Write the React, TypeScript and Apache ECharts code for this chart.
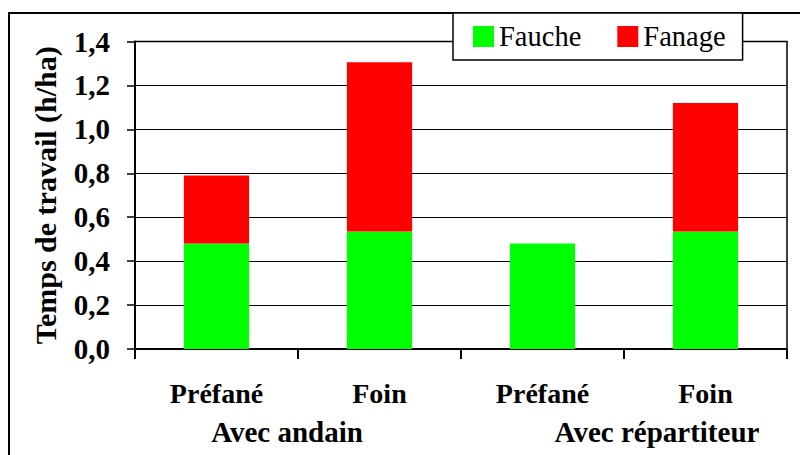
import React, { useEffect, useRef } from "react";
import * as echarts from "echarts";

const categories = ["Préfané", "Foin", "Préfané", "Foin"];
const groupLabels = ["Avec andain", "Avec répartiteur"];
const faucheValues = [0.48, 0.535, 0.48, 0.535];
const fanageValues = [0.31, 0.77, 0, 0.585];
const yTicks = [0, 0.2, 0.4, 0.6, 0.8, 1.0, 1.2, 1.4];

const FONT = "Liberation Serif";

export default function App() {
  const ref = useRef<HTMLDivElement>(null);
  useEffect(() => {
    document.body.style.margin = "0";
    if (!ref.current) return;
    const chart = echarts.init(ref.current, null, { renderer: "svg" });
    chart.setOption({
      animation: false,
      backgroundColor: "#fff",
      textStyle: { fontFamily: FONT },
      grid: {
        left: 135,
        right: 13,
        top: 41.5,
        bottom: 106,
        show: true,
        borderColor: "#000",
        borderWidth: 1.5,
        backgroundColor: "transparent",
      },
      legend: {
        left: 453,
        top: 13,
        itemWidth: 21,
        itemHeight: 21,
        itemGap: 36,
        icon: "rect",
        padding: [9, 17, 9, 20],
        backgroundColor: "#fff",
        borderColor: "#000",
        borderWidth: 1.5,
        textStyle: { fontFamily: FONT, fontSize: 28.5, color: "#000" },
        data: ["Fauche", "Fanage"],
      },
      xAxis: {
        type: "category",
        data: categories,
        axisLine: { lineStyle: { color: "#000", width: 2 } },
        axisTick: { show: true, length: 10, lineStyle: { color: "#000", width: 2 } },
        axisLabel: {
          margin: 30,
          fontFamily: FONT,
          fontWeight: "bold",
          fontSize: 28,
          color: "#000",
        },
      },
      yAxis: {
        type: "value",
        min: 0,
        max: yTicks[yTicks.length - 1],
        interval: 0.2,
        name: "Temps de travail (h/ha)",
        nameLocation: "middle",
        nameGap: 75,
        nameTextStyle: { fontFamily: FONT, fontWeight: "bold", fontSize: 30, color: "#000" },
        axisLine: { show: true, lineStyle: { color: "#000", width: 2 } },
        axisTick: { show: true, length: 8, lineStyle: { color: "#000", width: 1.5 } },
        splitLine: { show: true, lineStyle: { color: "#000", width: 1 } },
        axisLabel: {
          margin: 25,
          fontFamily: FONT,
          fontWeight: "bold",
          fontSize: 29,
          color: "#000",
          formatter: (v: number) => v.toFixed(1).replace(".", ","),
        },
      },
      series: [
        {
          name: "Fauche",
          type: "bar",
          stack: "total",
          barWidth: "40%",
          itemStyle: { color: "#00ff00" },
          data: faucheValues,
        },
        {
          name: "Fanage",
          type: "bar",
          stack: "total",
          barWidth: "40%",
          itemStyle: { color: "#ff0000" },
          data: fanageValues,
        },
      ],
      graphic: [
        {
          type: "rect",
          z: 0,
          shape: { x: 9, y: 13, width: 800, height: 460 },
          style: { fill: "none", stroke: "#000", lineWidth: 2 },
          silent: true,
        },
        {
          type: "text",
          x: 287,
          y: 432,
          style: {
            text: groupLabels[0],
            fontFamily: FONT,
            fontWeight: "bold",
            fontSize: 29,
            fill: "#000",
            align: "center",
            verticalAlign: "middle",
          },
        },
        {
          type: "text",
          x: 657,
          y: 432,
          style: {
            text: groupLabels[1],
            fontFamily: FONT,
            fontWeight: "bold",
            fontSize: 29,
            fill: "#000",
            align: "center",
            verticalAlign: "middle",
          },
        },
      ],
    });
    return () => chart.dispose();
  }, []);
  return <div ref={ref} style={{ width: 800, height: 455 }} />;
}
